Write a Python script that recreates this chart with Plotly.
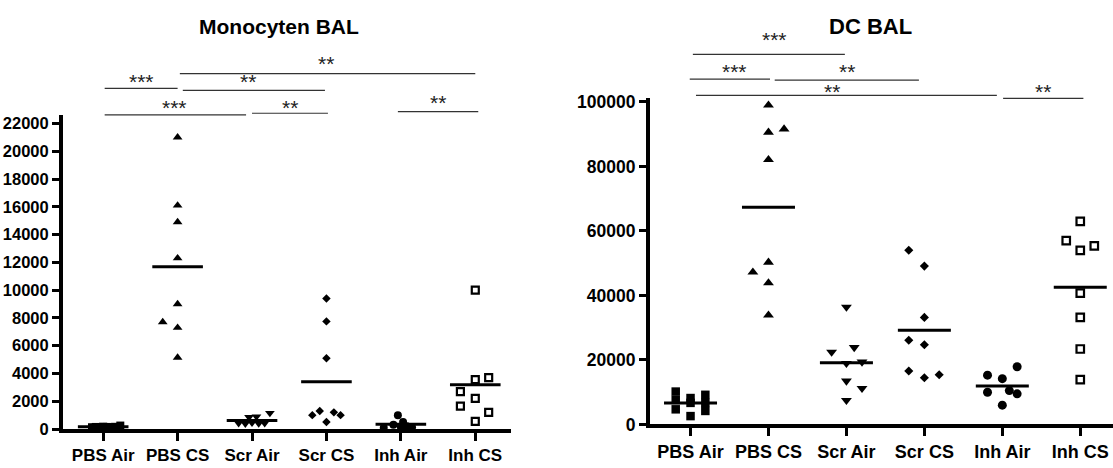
import plotly.graph_objects as go

W, H = 1113, 468

categories = ["PBS Air", "PBS CS", "Scr Air", "Scr CS", "Inh Air", "Inh CS"]

# ---- Monocyten BAL (left panel) ----
mono_pbs_air = [130, 150, 140, 170, 150, 130, 160, 250]
mono_pbs_cs = [21000, 16100, 14900, 12300, 9000, 7700, 7300, 5150]
mono_scr_air = [420, 380, 450, 400, 420, 850, 900, 1150]
mono_scr_cs = [9400, 7750, 5100, 1000, 1300, 500, 1200, 1000]
mono_inh_air = [100, 300, 1000, 500, 200, 120, 150]
mono_inh_cs = [10000, 3550, 3700, 2700, 2200, 1650, 1200, 550]

# ---- DC BAL (right panel) ----
dc_pbs_air = [10200, 7600, 4700, 8200, 6700, 2600, 9200, 6700, 4200]
dc_pbs_cs = [99000, 90600, 91600, 82100, 50300, 47200, 43900, 33900]
dc_scr_air = [36400, 22450, 23900, 18950, 19400, 13500, 11200, 7500]
dc_scr_cs = [54000, 49100, 33200, 26100, 24700, 16600, 14500, 15400]
dc_inh_air = [17900, 15300, 14200, 10000, 10500, 9500, 6000]
dc_inh_cs = [63000, 57000, 54000, 55400, 40700, 33200, 23400, 13900]

mono_yticks = [0, 2000, 4000, 6000, 8000, 10000, 12000, 14000, 16000, 18000, 20000, 22000]
dc_yticks = [0, 20000, 40000, 60000, 80000, 100000]

# horizontal spread of the points inside each column (category units)
mono_dx = [
    [-0.15, -0.1, -0.05, 0, 0.05, 0.1, 0.16, 0.23],
    [0, 0, 0, 0, 0, -0.2, 0, 0],
    [-0.18, -0.09, 0.0, 0.09, 0.17, -0.04, 0.06, 0.24],
    [0, 0, 0, -0.19, -0.09, 0, 0.1, 0.19],
    [-0.23, -0.1, -0.04, 0.03, 0.08, 0.15, 0.0],
    [0, 0, 0.18, -0.2, 0, -0.2, 0.18, 0],
]
dc_dx = [
    [-0.19, -0.19, -0.19, 0, 0, 0, 0.19, 0.19, 0.19],
    [0, 0, 0.2, 0, 0, -0.2, 0, 0],
    [0, -0.19, 0.1, 0, 0.2, 0, 0.2, 0],
    [-0.2, 0, 0, -0.2, 0, -0.2, 0, 0.19],
    [0.19, -0.19, 0, -0.19, 0.09, 0.19, 0],
    [0, -0.18, 0, 0.18, 0, 0, 0, 0],
]

# significance brackets: (from, to) in category units, heights in y-domain units
mono_sig_text = ["**", "***", "**", "***", "**", "**"]
mono_sig_x0 = [1.03, 0.02, 1.07, 0.02, 2.0, 3.96]
mono_sig_x1 = [5.0, 1.0, 2.98, 1.92, 3.02, 5.04]
mono_sig_y = [1.132, 1.085, 1.079, 1.001, 1.006, 1.011]
mono_sig_tx = [3.0, 0.52, 1.95, 0.96, 2.51, 4.5]
mono_sig_ty = [1.158, 1.102, 1.102, 1.019, 1.019, 1.035]

dc_sig_text = ["***", "***", "**", "**", "**"]
dc_sig_x0 = [0.03, -0.01, 1.08, 0.07, 4.01]
dc_sig_x1 = [1.98, 1.02, 2.93, 3.93, 5.04]
dc_sig_y = [1.133, 1.057, 1.054, 1.007, 0.998]
dc_sig_tx = [1.08, 0.57, 2.01, 1.81, 4.52]
dc_sig_ty = [1.171, 1.074, 1.074, 1.013, 1.013]

symbols = ["square", "triangle-up", "triangle-down", "diamond", "circle", "square-open"]
mono_sizes = [8, 8.5, 8.5, 6.5, 8, 7]
dc_sizes = [8.5, 9.5, 9.5, 7, 9, 7.5]

mono_groups = [mono_pbs_air, mono_pbs_cs, mono_scr_air, mono_scr_cs, mono_inh_air, mono_inh_cs]
dc_groups = [dc_pbs_air, dc_pbs_cs, dc_scr_air, dc_scr_cs, dc_inh_air, dc_inh_cs]

fig = go.Figure()


def add_panel(groups, dxs, sizes, xa, ya):
    for i, (vals, dx) in enumerate(zip(groups, dxs)):
        sym = symbols[i]
        is_open = sym.endswith("open")
        fig.add_trace(go.Scatter(
            x=[i + d for d in dx], y=vals, mode="markers",
            xaxis=xa, yaxis=ya, cliponaxis=False, showlegend=False,
            marker=dict(symbol=sym, size=sizes[i], color="black",
                        line=dict(color="black", width=2.2 if is_open else 0)),
        ))
        m = sum(vals) / len(vals)
        fig.add_trace(go.Scatter(
            x=[i - 0.34, i + 0.34], y=[m, m], mode="lines",
            xaxis=xa, yaxis=ya, cliponaxis=False, showlegend=False,
            line=dict(color="black", width=3),
        ))


add_panel(mono_groups, mono_dx, mono_sizes, "x", "y")
add_panel(dc_groups, dc_dx, dc_sizes, "x2", "y2")

shapes = []
annotations = []


def add_sig(texts, x0s, x1s, ys, txs, tys, xr, yr):
    for t, a, b, yv, tx, ty in zip(texts, x0s, x1s, ys, txs, tys):
        shapes.append(dict(type="line", xref=xr, yref=yr + " domain",
                           x0=a, x1=b, y0=yv, y1=yv,
                           line=dict(color="#333333", width=1.2)))
        annotations.append(dict(text=t, xref=xr, yref=yr + " domain", x=tx, y=ty,
                                showarrow=False, xanchor="center", yanchor="middle",
                                yshift=2,
                                font=dict(family="Arial", size=21, color="#222222")))


add_sig(mono_sig_text, mono_sig_x0, mono_sig_x1, mono_sig_y, mono_sig_tx, mono_sig_ty, "x", "y")
add_sig(dc_sig_text, dc_sig_x0, dc_sig_x1, dc_sig_y, dc_sig_tx, dc_sig_ty, "x2", "y2")

annotations.append(dict(text="Monocyten BAL", xref="paper", yref="paper",
                        x=279 / W, y=1 - 21 / H, showarrow=False,
                        xanchor="center", yanchor="middle",
                        font=dict(family="Arial", size=21, color="black", weight="bold")))
annotations.append(dict(text="DC BAL", xref="paper", yref="paper",
                        x=870 / W, y=1 - 21 / H, showarrow=False,
                        xanchor="center", yanchor="middle",
                        font=dict(family="Arial", size=22, color="black", weight="bold")))

axis_common = dict(showline=True, linewidth=4, linecolor="black", ticks="outside",
                   tickwidth=3, tickcolor="black", showgrid=False, zeroline=False)

fig.update_layout(
    width=W, height=H, margin=dict(l=0, r=0, t=0, b=0),
    paper_bgcolor="white", plot_bgcolor="white",
    shapes=shapes, annotations=annotations,
    xaxis=dict(domain=[63 / W, 511 / W], range=[-0.54, 5.48], anchor="y",
               tickvals=list(range(len(categories))), ticktext=categories, ticklen=8,
               tickfont=dict(family="Arial", size=17, color="black", weight="bold"),
               **axis_common),
    yaxis=dict(domain=[1 - 438 / H, 1 - 113 / H], range=[0, 22600], anchor="x",
               tickvals=mono_yticks, tickformat="d", ticklen=7,
               tickfont=dict(family="Arial", size=16.5, color="black", weight="bold"),
               **axis_common),
    xaxis2=dict(domain=[650 / W, 1.0], range=[-0.52, 5.42], anchor="y2",
                tickvals=list(range(len(categories))), ticktext=categories, ticklen=8,
                tickfont=dict(family="Arial", size=18, color="black", weight="bold"),
                **axis_common),
    yaxis2=dict(domain=[1 - 433.3 / H, 1 - 95 / H], range=[0, 101300], anchor="x2",
                tickvals=dc_yticks, tickformat="d", ticklen=7,
                tickfont=dict(family="Arial", size=17.5, color="black", weight="bold"),
                **axis_common),
)

fig.write_html("out.html")
